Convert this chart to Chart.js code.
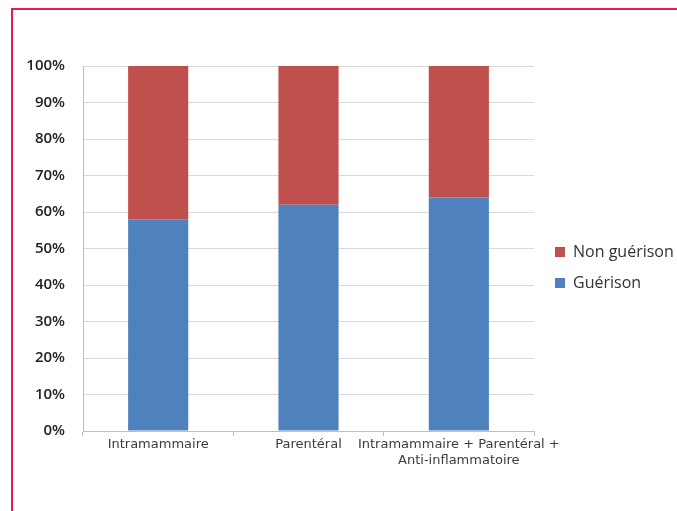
<!DOCTYPE html>
<html>
<head>
<meta charset="utf-8">
<script src="https://cdn.jsdelivr.net/npm/chart.js@4"></script>
<style>
  html, body { margin: 0; padding: 0; background: #ffffff; }
  #wrap { position: relative; width: 677px; height: 511px; overflow: hidden; }
  #frame { position: absolute; left: 11px; top: 8px; width: 700px; height: 600px;
           border-left: 2px solid #e8185a; border-top: 2px solid #e8185a; box-sizing: border-box; }
  #c { position: absolute; left: 0; top: 0; }
</style>
</head>
<body>
<div id="wrap">
  <div id="frame"></div>
  <canvas id="c" width="677" height="511"></canvas>
</div>
<script>
const categories = ['Intramammaire', 'Parentéral', ['Intramammaire + Parentéral +', 'Anti-inflammatoire']];
const seriesNames = ['Guérison', 'Non guérison'];
const guerison = [58, 62, 64];
const nonGuerison = [42, 38, 36];
const yTickValues = [0, 10, 20, 30, 40, 50, 60, 70, 80, 90, 100];

const ctx = document.getElementById('c').getContext('2d');
new Chart(ctx, {
  type: 'bar',
  data: {
    labels: categories,
    datasets: [
      { label: seriesNames[0], data: guerison, backgroundColor: '#4f81bd', borderWidth: 0 },
      { label: seriesNames[1], data: nonGuerison, backgroundColor: '#c0504d', borderWidth: 0 }
    ]
  },
  options: {
    responsive: false,
    animation: false,
    devicePixelRatio: 1,
    layout: { padding: { left: 13, top: 66, right: 0, bottom: 42 } },
    datasets: { bar: { categoryPercentage: 1, barPercentage: 0.4 } },
    scales: {
      x: {
        stacked: true,
        grid: { drawOnChartArea: false, drawTicks: true, tickLength: 5, color: '#bfbfbf', offset: true },
        border: { color: '#bfbfbf' },
        ticks: { color: '#3c3c3c', font: { family: 'DejaVu Sans', size: 13 }, padding: 1, maxRotation: 0, autoSkip: false },
        afterFit: s => { s.height = 38; }
      },
      y: {
        stacked: true,
        min: 0, max: 100,
        afterBuildTicks: s => { s.ticks = yTickValues.map(v => ({ value: v })); },
        grid: { color: '#d9d9d9', drawTicks: false },
        border: { color: '#bfbfbf' },
        ticks: { color: '#222', font: { family: 'Open Sans', size: 15, weight: '600' }, padding: 18,
                 callback: v => v + '%' },
        afterFit: s => { s.width = 70; }
      },
      gap: {
        type: 'linear',
        position: 'right',
        display: true,
        grid: { display: false, drawTicks: false },
        border: { display: false },
        ticks: { display: false },
        afterFit: s => { s.width = 6; }
      }
    },
    plugins: {
      legend: {
        position: 'right',
        reverse: true,
        maxWidth: 137,
        labels: { boxWidth: 10, boxHeight: 10, padding: 15, color: '#333',
                  font: { family: 'Open Sans', size: 16 } }
      },
      tooltip: { enabled: false }
    }
  }
});
</script>
</body>
</html>
